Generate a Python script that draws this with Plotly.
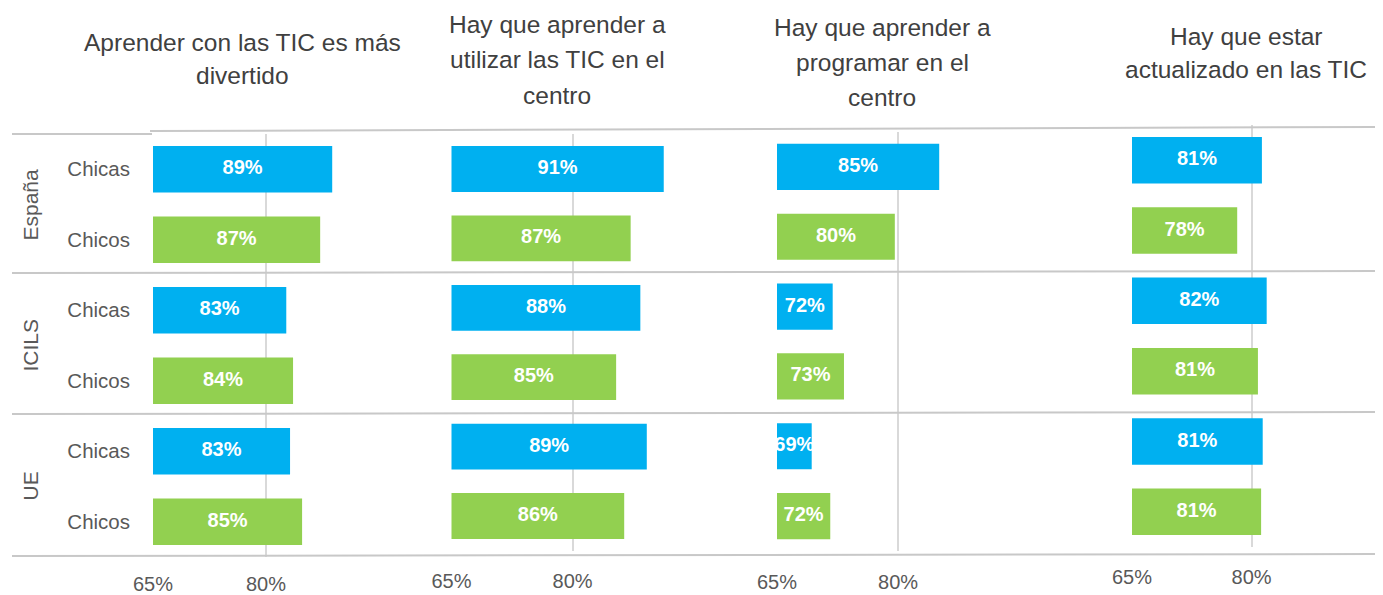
import plotly.graph_objects as go

W, H = 1383, 595

groups = ["España", "ICILS", "UE"]
sexes = ["Chicas", "Chicos"]
tick_vals = [65, 80]
tick_text = ["65%", "80%"]
titles = [
    ["Aprender con las TIC es más", "divertido"],
    ["Hay que aprender a", "utilizar las TIC en el", "centro"],
    ["Hay que aprender a", "programar en el", "centro"],
    ["Hay que estar", "actualizado en las TIC"],
]
# order: España Chicas, España Chicos, ICILS Chicas, ICILS Chicos, UE Chicas, UE Chicos
divertido = [88.8, 87.2, 82.7, 83.6, 83.2, 84.8]
utilizar = [91.3, 87.2, 88.4, 85.4, 89.2, 86.4]
programar = [85.1, 79.6, 71.9, 73.3, 69.3, 71.6]
actualizado = [81.3, 78.2, 81.9, 80.8, 81.4, 81.2]
panels = [divertido, utilizar, programar, actualizado]

colors = {"Chicas": "#00B0F0", "Chicos": "#92D050"}
FONT = "Liberation Sans, Arial, sans-serif"

cats = [f"{g}|{s}" for g in groups for s in sexes]
cat_sex = [s for g in groups for s in sexes]

# layout geometry in (page) pixels
OFF = 8  # page body margin
x_start = [153, 451.5, 777, 1132]
px_per = [7.53, 8.07, 8.07, 7.97]
y_top = [134, 134.3, 132, 125]
y_bot = [557, 550.7, 551, 547]
title_cx = [243, 557, 882, 1246]
title_y0 = [42, 24, 27, 36]
title_gap = [33, 35.5, 35, 34]
tick_standoff = [13, 16, 17, 16]
XMIN, XMAX = 65, 95

def px(p):
    return (p - OFF) / W

def py(p):
    return 1 - (p - OFF) / H

fig = go.Figure()
layout = dict()
annotations = []
for i, vals in enumerate(panels):
    n = "" if i == 0 else str(i + 1)
    xa, ya = "x" + n, "y" + n
    fig.add_trace(go.Bar(
        x=vals, y=cats, orientation="h", xaxis=xa, yaxis=ya,
        marker=dict(color=[colors[s] for s in cat_sex], line=dict(width=0)),
        width=0.66, showlegend=False, hoverinfo="x+y",
    ))
    fig.add_trace(go.Scatter(
        x=[(XMIN + v) / 2 for v in vals], y=cats, mode="text",
        text=[f"{round(v)}%" for v in vals], xaxis=xa, yaxis=ya,
        textfont=dict(color="white", size=20, family=FONT, weight="bold"),
        showlegend=False, hoverinfo="skip", cliponaxis=False,
    ))
    x0 = x_start[i]
    x1 = x0 + (XMAX - XMIN) * px_per[i]
    layout["xaxis" + n] = dict(
        domain=[px(x0), px(x1)], range=[XMIN, XMAX], anchor=ya,
        tickvals=tick_vals, ticktext=tick_text, showgrid=True,
        gridcolor="#D9D9D9", gridwidth=1.5, zeroline=False, showline=False,
        ticks="", ticklabelstandoff=tick_standoff[i], automargin=False,
        tickfont=dict(size=20, color="#595959", family=FONT), fixedrange=True,
    )
    layout["yaxis" + n] = dict(
        domain=[py(y_bot[i]), py(y_top[i])], anchor=xa, type="category",
        categoryorder="array", categoryarray=cats, autorange="reversed",
        showgrid=False, zeroline=False, showline=False, ticks="",
        showticklabels=(i == 0), tickvals=cats, automargin=False,
        ticktext=cat_sex, ticklabelstandoff=22,
        tickfont=dict(size=20.5, color="#595959", family=FONT), fixedrange=True,
    )
    for j, line in enumerate(titles[i]):
        annotations.append(dict(
            text=line, xref="paper", yref="paper", x=px(title_cx[i]),
            y=py(title_y0[i] + title_gap[i] * j), xanchor="center",
            yanchor="middle", showarrow=False,
            font=dict(size=24.5, color="#404040", family=FONT),
        ))

for k, g in enumerate(groups):
    annotations.append(dict(
        text=g, xref="paper", yref="y", x=px(30), y=2 * k + 0.5,
        xanchor="center", yanchor="middle", textangle=-90, showarrow=False,
        font=dict(size=21, color="#595959", family=FONT),
    ))

line_style = dict(color="#C8C8C8", width=2)
shapes = [
    dict(type="line", xref="paper", yref="paper", x0=px(12), x1=px(152),
         y0=py(134), y1=py(134), line=line_style),
    dict(type="line", xref="paper", yref="paper", x0=px(150), x1=px(1383),
         y0=py(131), y1=py(127), line=line_style),
]
for yy in [273, 414, 556]:
    shapes.append(dict(type="line", xref="paper", yref="paper", x0=px(12),
                       x1=px(1383), y0=py(yy), y1=py(yy - 2), line=line_style))

fig.update_layout(
    **layout,
    width=W, height=H, margin=dict(l=0, r=0, t=0, b=0, autoexpand=False),
    plot_bgcolor="white", paper_bgcolor="white",
    annotations=annotations, shapes=shapes, barmode="overlay",
    font=dict(family=FONT),
)

fig.write_html("out.html")
